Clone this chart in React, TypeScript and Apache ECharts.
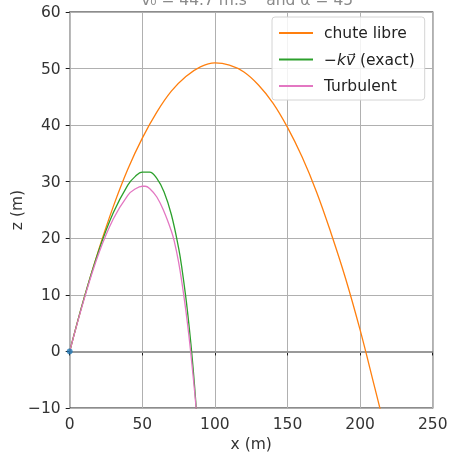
import React, { useEffect, useRef } from "react";
import * as echarts from "echarts";

// Free fall (chute libre)
const freeX = [0, 10, 20, 30, 40, 50, 60, 70, 80, 90, 100, 110, 120, 130, 140, 150, 160, 170, 180, 190, 200, 210, 214];
const freeZ = [0, 9.5, 18.0, 25.6, 32.2, 37.7, 42.3, 46.0, 48.6, 50.3, 51.0, 50.6, 49.4, 47.1, 43.9, 39.6, 34.4, 28.2, 20.9, 12.9, 3.8, -6.3, -10.4];

// Linear drag -k v (exact)
const linX = [0, 10, 20, 30, 40, 45, 50, 55, 60, 65, 70, 75, 77.5, 80, 82, 84, 86, 87.5];
const linZ = [0, 9.5, 17.8, 24.5, 29.4, 30.9, 31.7, 31.7, 30.6, 28.2, 24.2, 18.3, 14.3, 9.5, 5.0, -0.1, -6.1, -11.3];

// Turbulent (quadratic drag)
const turbX = [0, 10, 20, 30, 40, 45, 50, 52, 55, 60, 65, 70, 72, 75, 77.5, 80, 82, 84, 86, 87.5];
const turbZ = [0, 9.3, 17.3, 23.4, 27.6, 28.7, 29.2, 29.2, 28.8, 27.3, 24.7, 21.3, 19.5, 15.8, 11.8, 7.2, 3.0, -1.8, -7.0, -11.3];

const startPoint = [[0, 0]];

const xTicks = { min: 0, max: 250, interval: 50 };
const yTicks = { min: -10, max: 60, interval: 10 };

const seriesNames = ["chute libre", "kv", "Turbulent"];

const FONT = "DejaVu Sans";

function zip(xs: number[], ys: number[]) {
  return xs.map((x, i) => [x, ys[i]]);
}

export default function App() {
  const ref = useRef<HTMLDivElement>(null);
  useEffect(() => {
    if (!ref.current) return;
    const chart = echarts.init(ref.current, undefined, { renderer: "svg" });
    const lineCommon = {
      type: "line" as const,
      showSymbol: false,
      symbol: "none",
      smooth: 0.4,
      clip: true,
      z: 3,
    };
    chart.setOption({
      animation: false,
      grid: {
        left: 69.7,
        right: 17.3,
        top: 12,
        bottom: 44,
        containLabel: false,
        outerBoundsMode: "none",
        show: true,
        borderColor: "#1a1a1a",
        borderWidth: 1.2,
        backgroundColor: "transparent",
      },
      xAxis: {
        type: "value",
        min: xTicks.min,
        max: xTicks.max,
        interval: xTicks.interval,
        name: "x (m)",
        nameLocation: "middle",
        nameGap: 28,
        nameMoveOverlap: false,
        nameTextStyle: { fontFamily: FONT, fontSize: 15.5, color: "#333" },
        axisLine: { show: false },
        axisTick: { show: true, inside: false, length: 4, lineStyle: { color: "#1a1a1a", width: 1 } },
        axisLabel: { fontFamily: FONT, fontSize: 15.5, color: "#333", margin: 8 },
        splitLine: { show: true, lineStyle: { color: "#b0b0b0", width: 1 } },
      },
      yAxis: {
        type: "value",
        min: yTicks.min,
        max: yTicks.max,
        interval: yTicks.interval,
        name: "z (m)",
        nameLocation: "middle",
        nameGap: 45,
        nameMoveOverlap: false,
        nameTextStyle: { fontFamily: FONT, fontSize: 15.5, color: "#333" },
        axisLine: { show: false },
        axisTick: { show: true, inside: false, length: 4, lineStyle: { color: "#1a1a1a", width: 1 } },
        axisLabel: {
          fontFamily: FONT,
          fontSize: 15.5,
          color: "#333",
          margin: 9,
          formatter: (v: number) => (v < 0 ? "\u2212" + Math.abs(v) : String(v)),
        },
        splitLine: { show: true, lineStyle: { color: "#b0b0b0", width: 1 } },
      },
      legend: {
        orient: "vertical",
        left: 272,
        top: 17,
        data: seriesNames,
        backgroundColor: "rgba(255,255,255,0.85)",
        borderColor: "#d4d4d4",
        borderWidth: 1,
        borderRadius: 3,
        padding: [8, 10, 6, 6],
        itemWidth: 34,
        itemHeight: 14,
        itemGap: 10.5,
        itemStyle: { opacity: 0 },
        formatter: (name: string) => (name === "kv" ? "\u2212{it|kv\u20D7} (exact)" : name),
        textStyle: {
          fontFamily: FONT,
          fontSize: 15.5,
          color: "#222",
          padding: [0, 0, 0, 6],
          rich: {
            it: { fontFamily: FONT, fontSize: 15.5, fontStyle: "italic", color: "#222" },
          },
        },
      },
      graphic: [
        {
          type: "text",
          x: 251,
          y: -8,
          z: 10,
          style: {
            text: "v\u2080 = 44.7 m.s\u207B\u00B9 and \u03B1 = 45\u00B0",
            fontFamily: FONT,
            fontSize: 15.5,
            fill: "#8a8a8a",
            align: "center",
            verticalAlign: "top",
          },
        },
      ],
      series: [
        {
          ...lineCommon,
          name: seriesNames[0],
          data: zip(freeX, freeZ),
          lineStyle: { color: "#ff7f0e", width: 1.3 },
          itemStyle: { color: "#ff7f0e" },
        },
        {
          ...lineCommon,
          name: seriesNames[1],
          data: zip(linX, linZ),
          lineStyle: { color: "#2ca02c", width: 1.3 },
          itemStyle: { color: "#2ca02c" },
        },
        {
          ...lineCommon,
          name: seriesNames[2],
          data: zip(turbX, turbZ),
          lineStyle: { color: "#e377c2", width: 1.3 },
          itemStyle: { color: "#e377c2" },
        },
        {
          type: "scatter",
          name: "start",
          data: startPoint,
          symbolSize: 6,
          clip: false,
          z: 5,
          itemStyle: { color: "#1f77b4" },
          markLine: {
            silent: true,
            symbol: "none",
            label: { show: false },
            lineStyle: { color: "#999999", width: 2, type: "solid" },
            data: [{ yAxis: 0 }],
            z: 2,
          },
        },
      ],
    });
    return () => chart.dispose();
  }, []);
  return <div ref={ref} style={{ width: 450, height: 452, position: "fixed", left: 0, top: 0 }} />;
}
